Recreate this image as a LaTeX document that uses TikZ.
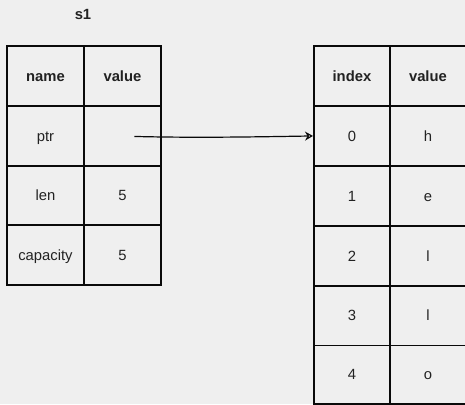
\documentclass[tikz,border=0pt]{standalone}
\usepackage{fontspec}
\setmainfont{Liberation Sans}
\usetikzlibrary{arrows.meta}
\definecolor{bg}{HTML}{EFEFEF}
\definecolor{ink}{HTML}{0A0A0A}
\definecolor{txt}{HTML}{222222}
\begin{document}
\begin{tikzpicture}[x=1pt,y=-1pt]
\tikzset{
  cellbox/.style={draw=ink, line width=1.9pt, inner sep=0pt, anchor=north west,
    minimum height=60pt, text=txt, text height=11pt, text depth=0.5pt,
    font=\fontsize{14.8}{17}\selectfont},
  lcell/.style={cellbox, minimum width=77pt},
  rcell/.style={cellbox, minimum width=76pt},
  hdr/.style={font=\fontsize{14.8}{17}\selectfont\bfseries},
  ptrarrow/.style={draw=ink, line width=1.2pt, -{Stealth[open, length=8pt, width=9pt]}}
}
\fill[bg] (0,0) rectangle (465,404);
\useasboundingbox (0,0) rectangle (465,404);

\node[font=\fontsize{14.8}{17}\selectfont\bfseries, text=txt] (title) at (83,14) {s1};

% left table
\node[lcell, hdr] (lname) at (6,45) {name};
\node[lcell, hdr] (lval)  at (83,45) {value};
\node[lcell] (lptr) at (6,105) {ptr};
\node[lcell] (lptrv) at (83,105) {};
\node[lcell] (llen) at (6,164.5) {len};
\node[lcell] (llenv) at (83,164.5) {5};
\node[lcell] (lcap) at (6,224) {capacity};
\node[lcell] (lcapv) at (83,224) {5};

% right table
\node[rcell, hdr] (rindex) at (313,45) {index};
\node[rcell, hdr] (rval) at (389,45) {value};
\node[rcell] (r0) at (313,105) {0};
\node[rcell] (r0v) at (389,105) {h};
\node[rcell] (r1) at (313,165) {1};
\node[rcell] (r1v) at (389,165) {e};
\node[rcell] (r2) at (313,225) {2};
\node[rcell] (r2v) at (389,225) {l};
\node[rcell] (r3) at (313,284.5) {3};
\node[rcell] (r3v) at (389,284.5) {l};
\node[rcell, minimum height=58.5pt] (r4) at (313,344.5) {4};
\node[rcell, minimum height=58.5pt] (r4v) at (389,344.5) {o};

\coordinate (pstart) at ([xshift=12pt, yshift=-0.5pt]lptrv.center);
\draw[ptrarrow] (pstart) .. controls ([xshift=60pt, yshift=-1.5pt]pstart) and ([xshift=-60pt, yshift=-1pt]r0.west) .. (r0.west);
\end{tikzpicture}
\end{document}
